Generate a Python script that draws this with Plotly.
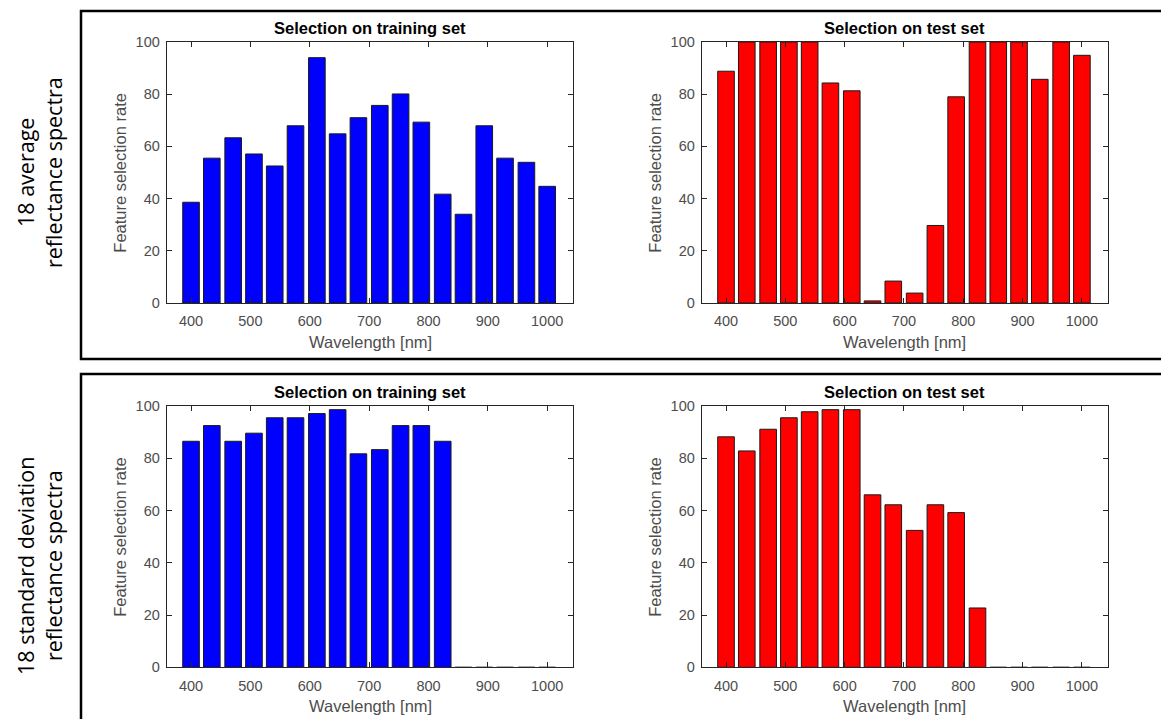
import plotly.graph_objects as go

# ---------------- data ----------------
wavelengths = [400, 435, 471, 506, 541, 576, 612, 647, 682, 718, 753, 788, 824, 859, 894, 929, 965, 1000]
avg_train = [38.6, 55.5, 63.3, 57.1, 52.5, 67.9, 94.0, 64.8, 71.0, 75.7, 80.1, 69.3, 41.7, 34.0, 67.9, 55.5, 53.9, 44.7]
avg_test = [88.8, 100, 100, 100, 100, 84.3, 81.3, 0.8, 8.4, 3.8, 29.7, 79.0, 100, 100, 100, 85.7, 100, 94.9]
std_train = [86.5, 92.5, 86.5, 89.6, 95.5, 95.5, 97.1, 98.6, 81.7, 83.3, 92.5, 92.5, 86.5, 0, 0, 0, 0, 0]
std_test = [88.2, 82.8, 91.1, 95.5, 97.8, 98.6, 98.6, 66.0, 62.2, 52.4, 62.2, 59.2, 22.7, 0, 0, 0, 0, 0]
x_ticks = [400, 500, 600, 700, 800, 900, 1000]
y_ticks = [0, 20, 40, 60, 80, 100]
panel_titles = ["Selection on training set", "Selection on test set",
                "Selection on training set", "Selection on test set"]
row_labels = [["18 average", "reflectance spectra"],
              ["18 standard deviation", "reflectance spectra"]]
x_title = "Wavelength [nm]"
y_title = "Feature selection rate"

# ---------------- layout helpers ----------------
W, H = 1161, 719
def px(x):
    return x / W
def py(y):
    return 1 - y / H

cols = [(166.7, 573.3), (701.7, 1108.0)]
rows = [(42.0, 303.0), (406.0, 667.3)]
panels = [(0, 0, avg_train, "#0000FF"), (0, 1, avg_test, "#FF0000"),
          (1, 0, std_train, "#0000FF"), (1, 1, std_test, "#FF0000")]

AX_COL = "#262626"
TICK_COL = "#4d4d4d"
FONT = "Liberation Sans, Arial, sans-serif"

fig = go.Figure()
layout = dict(
    width=W, height=H,
    margin=dict(l=0, r=0, t=0, b=0, pad=0, autoexpand=False),
    paper_bgcolor="white", plot_bgcolor="white",
    showlegend=False,
    font=dict(family=FONT, color=TICK_COL),
)
annotations = []
shapes = []

for i, (r, c, vals, col) in enumerate(panels):
    n = i + 1
    xa = "x" if n == 1 else f"x{n}"
    ya = "y" if n == 1 else f"y{n}"
    fig.add_trace(go.Bar(
        x=wavelengths, y=vals, xaxis=xa, yaxis=ya,
        width=28,
        marker=dict(color=col, line=dict(color="#1a1a1a", width=1)),
    ))
    x0, x1 = cols[c]
    y0, y1 = rows[r]
    common = dict(showline=True, linecolor=AX_COL, linewidth=1, mirror="ticks",
                  ticks="inside", ticklen=5, tickcolor=AX_COL, tickwidth=1,
                  showgrid=False, zeroline=False, automargin=False,
                  tickfont=dict(family=FONT, size=14.5, color=TICK_COL))
    layout["xaxis" if n == 1 else f"xaxis{n}"] = dict(
        domain=[px(x0), px(x1)], range=[359, 1044], anchor=ya,
        tickmode="array", tickvals=x_ticks, ticklabelstandoff=5, **common)
    layout["yaxis" if n == 1 else f"yaxis{n}"] = dict(
        domain=[py(y1), py(y0)], range=[0, 100], anchor=xa,
        tickmode="array", tickvals=y_ticks, ticklabelstandoff=3, **common)
    cx = (x0 + x1) / 2
    cy = (y0 + y1) / 2
    annotations.append(dict(text=f"<b>{panel_titles[i]}</b>", x=px(cx), y=py(y0 - 14),
                            xref="paper", yref="paper", showarrow=False,
                            xanchor="center", yanchor="middle",
                            font=dict(family=FONT, size=16.5, color="#000000")))
    annotations.append(dict(text=x_title, x=px(cx), y=py(y1 + 39),
                            xref="paper", yref="paper", showarrow=False,
                            xanchor="center", yanchor="middle",
                            font=dict(family=FONT, size=16.5, color=TICK_COL)))
    annotations.append(dict(text=y_title, x=px(x0 - 47.5), y=py(cy),
                            xref="paper", yref="paper", showarrow=False,
                            textangle=-90, xanchor="center", yanchor="middle",
                            font=dict(family=FONT, size=16.5, color=TICK_COL)))

# row labels
row_centers = [173, 566]
for r, (l1, l2) in enumerate(row_labels):
    for j, (txt, xx) in enumerate([(l1, 25), (l2, 53)]):
        annotations.append(dict(text=txt, x=px(xx), y=py(row_centers[r]),
                                xref="paper", yref="paper", showarrow=False,
                                textangle=-90, xanchor="center", yanchor="middle",
                                font=dict(family="Open Sans, Noto Sans, sans-serif",
                                          size=21.5, color="#000000")))

# frames
shapes.append(dict(type="rect", xref="paper", yref="paper",
                   x0=px(81), x1=px(1175), y0=py(11), y1=py(359),
                   line=dict(color="#000000", width=2.5)))
shapes.append(dict(type="rect", xref="paper", yref="paper",
                   x0=px(81), x1=px(1175), y0=py(374), y1=py(740),
                   line=dict(color="#000000", width=2.5)))

layout["annotations"] = annotations
layout["shapes"] = shapes
fig.update_layout(**layout)
fig.write_html(
    "out.html",
    config={"displayModeBar": False},
    post_script="document.documentElement.style.margin='0px';"
                "document.body.style.margin='0px';document.body.style.padding='0px';"
                "document.body.style.overflow='hidden';",
)
